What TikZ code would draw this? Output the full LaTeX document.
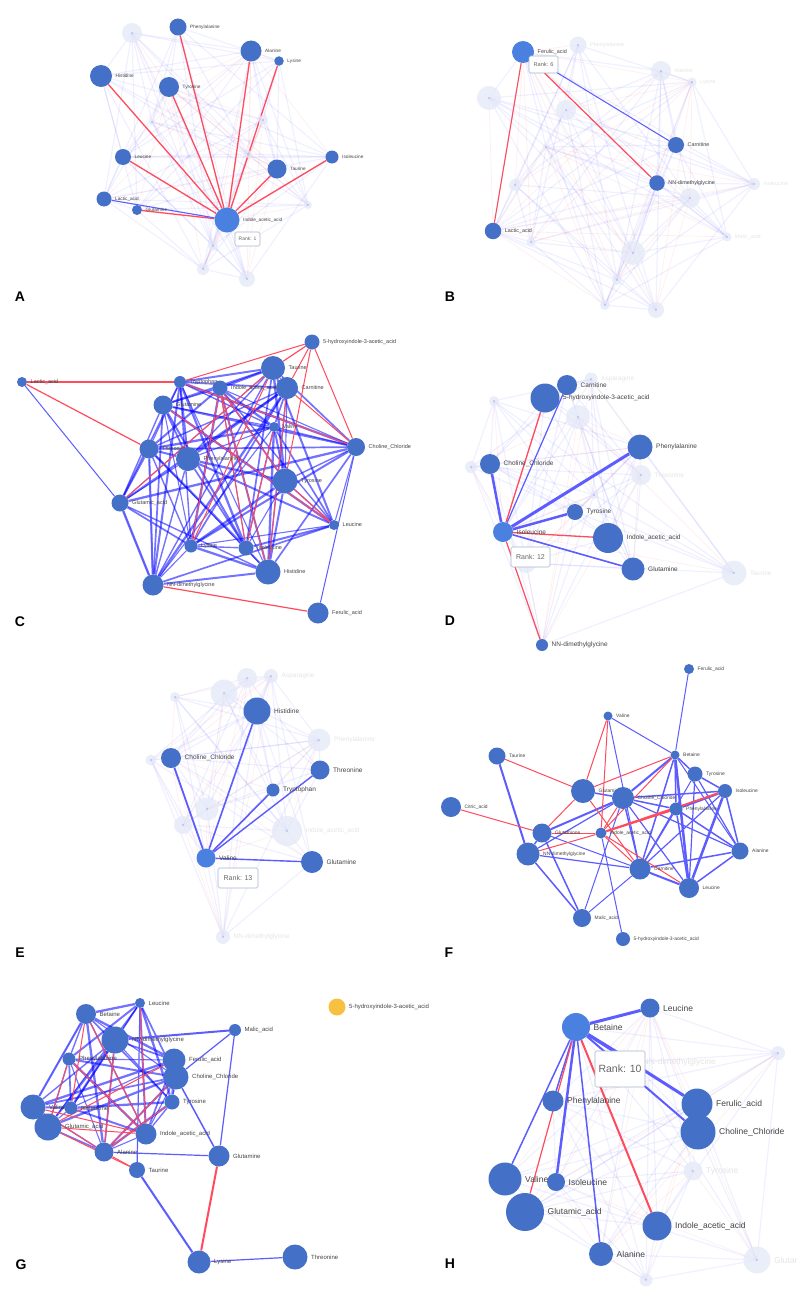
\documentclass[tikz,border=0pt]{standalone}
\usepackage{fontspec}
\setmainfont{Liberation Sans}
\pgfdeclarelayer{bgw}
\pgfdeclarelayer{edges}
\pgfsetlayers{bgw,edges,main}
\definecolor{nodeblue}{HTML}{4470C8}
\definecolor{hlblue}{HTML}{4A80E0}
\definecolor{eblue}{HTML}{5C5CFF}
\definecolor{ered}{HTML}{FF4B5C}
\definecolor{fadefill}{HTML}{E4E9F7}
\definecolor{dotcol}{HTML}{A0A0F0}
\definecolor{txtgray}{HTML}{444444}
\definecolor{boxgray}{HTML}{A8B4CC}
\definecolor{gold}{HTML}{F8C040}
\newcommand{\Nd}[6]{\node[#1,minimum size=#4pt,label={[#5]right:#6}] (#2) at (#3) {};}
\newcommand{\myfadenet}[2]{%
 \foreach \a [count=\i] in {#1}{%
  \foreach \b [count=\j] in {#1}{%
   \ifnum\i<\j\relax
    \pgfmathtruncatemacro{\k}{mod(\i*7+\j*3+#2,6)}%
    \ifnum\k=0\relax \draw[fred] (\a.center)--(\b.center);\fi
    \ifnum\k>2\relax \draw[fblue] (\a.center)--(\b.center);\fi
   \fi}}}
\newcommand{\mydense}[2]{%
 \foreach \a [count=\i] in {#1}{%
  \foreach \b [count=\j] in {#1}{%
   \ifnum\i<\j\relax
    \pgfmathtruncatemacro{\k}{mod(\i*5+\j*3+#2,7)}%
    \ifnum\k>1\relax
     \pgfmathsetmacro{\w}{0.5+0.3*\k}%
     \draw[dblue,line width=\w pt] (\a)--(\b);%
    \fi
   \fi}}}
\begin{document}
\begin{tikzpicture}[x=1pt,y=-1pt,
 nd/.style={circle,fill=nodeblue,inner sep=0pt,label distance=1.5pt},
 hl/.style={circle,fill=hlblue,inner sep=0pt,label distance=1.5pt},
 gd/.style={circle,fill=gold,inner sep=0pt,label distance=2pt},
 fd/.style={circle,fill=fadefill,fill opacity=0.75,inner sep=0pt,label distance=1.5pt,
   path picture={\fill[dotcol] (path picture bounding box.center) circle (0.8pt);}},
 labA/.style={font=\fontsize{4.7}{5}\selectfont,text=txtgray},
 labB/.style={font=\fontsize{5.4}{6}\selectfont,text=txtgray},
 labC/.style={font=\fontsize{5.5}{6}\selectfont,text=txtgray},
 labD/.style={font=\fontsize{6.5}{7}\selectfont,text=txtgray},
 labF/.style={font=\fontsize{4.9}{5}\selectfont,text=txtgray},
 labG/.style={font=\fontsize{6}{7}\selectfont,text=txtgray},
 labH/.style={font=\fontsize{8.5}{9}\selectfont,text=txtgray},
 fadelab/.style={text=black!10},
 rankbox/.style={draw=boxgray,fill=white,rounded corners=1.5pt,text=black!60,line width=0.6pt,inner sep=0pt},
 plab/.style={font=\fontsize{14}{16}\selectfont\bfseries,text=black},
 fblue/.style={draw=blue,draw opacity=0.06,line width=1.2pt},
 fred/.style={draw=red,draw opacity=0.06,line width=0.8pt},
 dblue/.style={draw=blue,draw opacity=0.55},
 eb/.style={draw=eblue},
 er/.style={draw=ered}]
\begin{pgfonlayer}{bgw}
\fill[white] (0,0) rectangle (796,1290);
\end{pgfonlayer}
\useasboundingbox (0,0) rectangle (796,1290);

% ================= Panel A =================
\Nd{fd}{af1}{132,33}{20}{labA,fadelab}{}
\Nd{fd}{af2}{152,122}{6}{labA,fadelab}{}
\Nd{fd}{af3}{263,120}{10}{labA,fadelab}{}
\Nd{fd}{af4}{248,154}{8}{labA,fadelab}{}
\Nd{fd}{af5}{308,205}{8}{labA,fadelab}{}
\Nd{fd}{af6}{213,246}{10}{labA,fadelab}{}
\Nd{fd}{af7}{203,269}{12}{labA,fadelab}{}
\Nd{fd}{af8}{247,279}{16}{labA,fadelab}{}
\Nd{nd}{aPhe}{178,27}{17}{labA}{Phenylalanine}
\Nd{nd}{aAla}{251,51}{21}{labA}{Alanine}
\Nd{nd}{aLys}{279,61}{9.5}{labA}{Lysine}
\Nd{nd}{aHis}{101,76}{22}{labA}{Histidine}
\Nd{nd}{aTyr}{169,87}{20}{labA}{Tyrosine}
\Nd{nd}{aLeu}{123,157}{16}{labA}{Leucine}
\Nd{nd}{aIle}{332,157}{13}{labA}{Isoleucine}
\Nd{nd}{aTau}{277,169}{19}{labA}{Taurine}
\Nd{nd}{aLac}{104,199}{15}{labA}{Lactic\_acid}
\Nd{nd}{aGln}{137,210}{10}{labA}{Glutamine}
\Nd{hl}{aIAA}{227,220}{25}{labA}{Indole\_acetic\_acid}
\node[rankbox,font=\fontsize{5}{6}\selectfont,minimum width=25pt,minimum height=14pt] (aRank) at (247.5,239) {Rank: 1};
\node[plab] (LA) at (20,297) {A};

% ================= Panel B =================
\Nd{fd}{bF1}{578,45}{17}{labB,fadelab}{Phenylalanine}
\Nd{fd}{bF2}{661,71}{20}{labB,fadelab}{Alanine}
\Nd{fd}{bF3}{692,82}{9}{labB,fadelab}{Lysine}
\Nd{fd}{bF4}{489,98}{24}{labB,fadelab}{}
\Nd{fd}{bF5}{566,110}{20}{labB,fadelab}{}
\Nd{fd}{bF6}{546,147}{6}{labB,fadelab}{}
\Nd{fd}{bF7}{515,185}{12}{labB,fadelab}{}
\Nd{fd}{bF8}{754,184}{12}{labB,fadelab}{Isoleucine}
\Nd{fd}{bF9}{690,198}{20}{labB,fadelab}{}
\Nd{fd}{bF10}{727,237}{9}{labB,fadelab}{Malic\_acid}
\Nd{fd}{bF11}{531,242}{9}{labB,fadelab}{}
\Nd{fd}{bF12}{633,253}{24}{labB,fadelab}{}
\Nd{fd}{bF13}{617,280}{10}{labB,fadelab}{}
\Nd{fd}{bF14}{605,305}{10}{labB,fadelab}{}
\Nd{fd}{bF15}{656,310}{16}{labB,fadelab}{}
\Nd{hl}{bFer}{523,52}{22}{labB}{Ferulic\_acid}
\Nd{nd}{bCar}{676,145}{16}{labB}{Carnitine}
\Nd{nd}{bNN}{657,183}{15.5}{labB}{NN-dimethylglycine}
\Nd{nd}{bLac}{493,231}{16.5}{labB}{Lactic\_acid}
\node[rankbox,font=\fontsize{5.6}{6}\selectfont,minimum width=29pt,minimum height=17pt] (bRank) at (543.5,64.5) {Rank: 6};
\node[plab] (LB) at (450,297) {B};

% ================= Panel C =================
\Nd{nd}{c5H}{312,342}{15}{labC}{5-hydroxyindole-3-acetic\_acid}
\Nd{nd}{cLac}{22,382}{10}{labC}{Lactic\_acid}
\Nd{nd}{cTrp}{180,382}{12}{labC}{Tryptophan}
\Nd{nd}{cTau}{273,368}{24}{labC}{Taurine}
\Nd{nd}{cIAA}{220,388}{15}{labC}{Indole\_acetic\_acid}
\Nd{nd}{cCar}{287,388}{22}{labC}{Carnitine}
\Nd{nd}{cGln}{163,405}{19}{labC}{Glutamine}
\Nd{nd}{cVal}{274,427}{10}{labC}{Valine}
\Nd{nd}{cCho}{356,447}{18}{labC}{Choline\_Chloride}
\Nd{nd}{cThr}{149,449}{19}{labC}{Threonine}
\Nd{nd}{cPhe}{188,459}{24}{labC}{Phenylalanine}
\Nd{nd}{cTyr}{285,481}{25}{labC}{Tyrosine}
\Nd{nd}{cGlu}{120,503}{17}{labC}{Glutamic\_acid}
\Nd{nd}{cLeu}{334,525}{10}{labC}{Leucine}
\Nd{nd}{cLys}{191,546}{13}{labC}{Lysine}
\Nd{nd}{cIle}{246,548}{15}{labC}{Isoleucine}
\Nd{nd}{cHis}{268,572}{25}{labC}{Histidine}
\Nd{nd}{cNN}{153,585}{21}{labC}{NN-dimethylglycine}
\Nd{nd}{cFer}{318,613}{21}{labC}{Ferulic\_acid}
\node[plab] (LC) at (20,622) {C};

% ================= Panel D =================
\Nd{fd}{dF1}{591,379}{13}{labD,fadelab}{Asparagine}
\Nd{fd}{dF2}{494,401}{10}{labD,fadelab}{}
\Nd{fd}{dF3}{578,417}{24}{labD,fadelab}{}
\Nd{fd}{dF4}{471,467}{12}{labD,fadelab}{}
\Nd{fd}{dF5}{641,475}{20}{labD,fadelab}{Threonine}
\Nd{fd}{dF6}{594,495}{8}{labD,fadelab}{}
\Nd{fd}{dF7}{526,563}{20}{labD,fadelab}{}
\Nd{fd}{dF8}{734,573}{25}{labD,fadelab}{Taurine}
\Nd{nd}{dCar}{567,385}{20}{labD}{Carnitine}
\Nd{nd}{d5H}{545,398}{29}{labD}{5-hydroxyindole-3-acetic\_acid}
\Nd{nd}{dPhe}{640,447}{25}{labD}{Phenylalanine}
\Nd{nd}{dCho}{490,464}{20}{labD}{Choline\_Chloride}
\Nd{nd}{dTyr}{575,512}{16}{labD}{Tyrosine}
\Nd{hl}{dIle}{503,532}{20}{labD}{Isoleucine}
\Nd{nd}{dIAA}{608,538}{30}{labD}{Indole\_acetic\_acid}
\Nd{nd}{dGln}{633,569}{23}{labD}{Glutamine}
\Nd{nd}{dNN}{542,645}{12}{labD}{NN-dimethylglycine}
\node[rankbox,font=\fontsize{7}{8}\selectfont,minimum width=39pt,minimum height=20pt] (dRank) at (530.5,557) {Rank: 12};
\node[plab] (LD) at (450,621) {D};

% ================= Panel E =================
\Nd{fd}{eF1}{247,678}{20}{labD,fadelab}{}
\Nd{fd}{eF2}{271,676}{14}{labD,fadelab}{Asparagine}
\Nd{fd}{eF3}{224,693}{27}{labD,fadelab}{}
\Nd{fd}{eF4}{175,697}{10}{labD,fadelab}{}
\Nd{fd}{eF5}{319,740}{23}{labD,fadelab}{Phenylalanine}
\Nd{fd}{eF6}{151,760}{11}{labD,fadelab}{}
\Nd{fd}{eF7}{207,809}{23}{labD,fadelab}{}
\Nd{fd}{eF8}{183,825}{18}{labD,fadelab}{}
\Nd{fd}{eF9}{287,831}{30}{labD,fadelab}{Indole\_acetic\_acid}
\Nd{fd}{eF10}{223,937}{14}{labD,fadelab}{NN-dimethylglycine}
\Nd{nd}{eHis}{257,711}{27}{labD}{Histidine}
\Nd{nd}{eCho}{171,758}{20}{labD}{Choline\_Chloride}
\Nd{nd}{eThr}{320,770}{19}{labD}{Threonine}
\Nd{nd}{eTrp}{273,790}{13}{labD}{Tryptophan}
\Nd{hl}{eVal}{206,858}{19}{labD}{Valine}
\Nd{nd}{eGln}{312,862}{22}{labD}{Glutamine}
\node[rankbox,font=\fontsize{7}{8}\selectfont,minimum width=40pt,minimum height=20pt] (eRank) at (238,878) {Rank: 13};
\node[plab] (LE) at (20,953) {E};

% ================= Panel F =================
\Nd{nd}{fFer}{689,669}{10}{labF}{Ferulic\_acid}
\Nd{nd}{fVal}{608,716}{9}{labF}{Valine}
\Nd{nd}{fTau}{497,756}{17}{labF}{Taurine}
\Nd{nd}{fBet}{675,755}{9}{labF}{Betaine}
\Nd{nd}{fTyr}{695,774}{15}{labF}{Tyrosine}
\Nd{nd}{fGlu}{583,791}{24}{labF}{Glutamic\_acid}
\Nd{nd}{fIle}{725,791}{14}{labF}{Isoleucine}
\Nd{nd}{fCho}{623,798}{22}{labF}{Choline\_Chloride}
\Nd{nd}{fCit}{451,807}{20}{labF}{Citric\_acid}
\Nd{nd}{fPhe}{676,809}{13}{labF}{Phenylalanine}
\Nd{nd}{fGsh}{542,833}{19}{labF}{Glutathione}
\Nd{nd}{fIAA}{601,833}{11}{labF}{Indole\_acetic\_acid}
\Nd{nd}{fNN}{528,854}{23}{labF}{NN-dimethylglycine}
\Nd{nd}{fAla}{740,851}{17}{labF}{Alanine}
\Nd{nd}{fCar}{640,869}{21}{labF}{Carnitine}
\Nd{nd}{fLeu}{689,888}{20}{labF}{Leucine}
\Nd{nd}{fMal}{582,918}{18}{labF}{Malic\_acid}
\Nd{nd}{f5H}{623,939}{14}{labF}{5-hydroxyindole-3-acetic\_acid}
\node[plab] (LF) at (449,953) {F};

% ================= Panel G =================
\Nd{gd}{g5H}{337,1007}{17}{labG}{5-hydroxyindole-3-acetic\_acid}
\Nd{nd}{gLeu}{140,1003}{10}{labG}{Leucine}
\Nd{nd}{gBet}{86,1014}{20}{labG}{Betaine}
\Nd{nd}{gMal}{235,1030}{12}{labG}{Malic\_acid}
\Nd{nd}{gNN}{115,1040}{27}{labG}{NN-dimethylglycine}
\Nd{nd}{gPhe}{69,1059}{13}{labG}{Phenylalanine}
\Nd{nd}{gFer}{174,1060}{23}{labG}{Ferulic\_acid}
\Nd{nd}{gCho}{176,1077}{25}{labG}{Choline\_Chloride}
\Nd{nd}{gVal}{33,1107}{25}{labG}{Valine}
\Nd{nd}{gIle}{71,1108}{13}{labG}{Isoleucine}
\Nd{nd}{gTyr}{172,1102}{15}{labG}{Tyrosine}
\Nd{nd}{gGlu}{48,1127}{27}{labG}{Glutamic\_acid}
\Nd{nd}{gIAA}{146,1134}{21}{labG}{Indole\_acetic\_acid}
\Nd{nd}{gAla}{104,1152}{19}{labG}{Alanine}
\Nd{nd}{gGln}{219,1156}{21}{labG}{Glutamine}
\Nd{nd}{gTau}{137,1170}{16}{labG}{Taurine}
\Nd{nd}{gLys}{199,1262}{23}{labG}{Lysine}
\Nd{nd}{gThr}{295,1257}{25}{labG}{Threonine}
\node[plab] (LG) at (21,1265) {G};

% ================= Panel H =================
\Nd{fd}{hF1}{778,1053}{14}{labH,fadelab}{}
\Nd{fd}{hNN}{633,1062}{12}{labH,fadelab}{NN-dimethylglycine}
\Nd{fd}{hTyr}{693,1171}{19}{labH,fadelab}{Tyrosine}
\Nd{fd}{hGln}{757,1260}{27}{labH,fadelab}{Glutamine}
\Nd{fd}{hF2}{646,1280}{13}{labH,fadelab}{}
\Nd{nd}{hLeu}{650,1008}{19}{labH}{Leucine}
\Nd{hl}{hBet}{576,1027}{28}{labH}{Betaine}
\Nd{nd}{hPhe}{553,1101}{21}{labH}{Phenylalanine}
\Nd{nd}{hFer}{697,1104}{31}{labH}{Ferulic\_acid}
\Nd{nd}{hCho}{698,1132}{35}{labH}{Choline\_Chloride}
\Nd{nd}{hVal}{505,1179}{33}{labH}{Valine}
\Nd{nd}{hIle}{556,1182}{18}{labH}{Isoleucine}
\Nd{nd}{hGlu}{525,1212}{38}{labH}{Glutamic\_acid}
\Nd{nd}{hIAA}{657,1226}{29}{labH}{Indole\_acetic\_acid}
\Nd{nd}{hAla}{601,1254}{24}{labH}{Alanine}
\node[rankbox,font=\fontsize{10.5}{12}\selectfont,minimum width=50pt,minimum height=36pt] (hRank) at (620,1069) {Rank: 10};
\node[plab] (LH) at (450,1264) {H};

% ================= Edges =================
\begin{pgfonlayer}{edges}
% faded networks
\myfadenet{aPhe,aAla,aLys,aHis,aTyr,aLeu,aIle,aTau,aLac,aGln,aIAA,af1,af2,af3,af4,af5,af6,af7,af8}{1}
\myfadenet{bFer,bCar,bNN,bLac,bF1,bF2,bF3,bF4,bF5,bF6,bF7,bF8,bF9,bF10,bF11,bF12,bF13,bF14,bF15}{2}
\myfadenet{dCar,d5H,dPhe,dCho,dTyr,dIle,dIAA,dGln,dNN,dF1,dF2,dF3,dF4,dF5,dF6,dF7,dF8}{3}
\myfadenet{eHis,eCho,eThr,eTrp,eVal,eGln,eF1,eF2,eF3,eF4,eF5,eF6,eF7,eF8,eF9,eF10}{4}
\myfadenet{hLeu,hBet,hPhe,hFer,hCho,hVal,hIle,hGlu,hIAA,hAla,hF1,hNN,hTyr,hGln,hF2}{5}
% dense networks
\mydense{cTrp,cTau,cIAA,cCar,cGln,cVal,cCho,cThr,cPhe,cTyr,cGlu,cLeu,cLys,cIle,cHis,cNN}{1}
\mydense{gLeu,gBet,gNN,gPhe,gFer,gCho,gVal,gIle,gTyr,gGlu,gIAA,gAla}{2}
% panel A
\foreach \u in {aPhe,aAla,aLys,aHis,aTyr,aLeu,aIle,aTau,aGln}
  \draw[er,line width=1.3pt] (aIAA)--(\u);
\draw[eb,line width=1.1pt] (aIAA)--(aLac);
% panel B
\draw[er,line width=1.1pt] (bFer)--(bLac);
\draw[er,line width=1.2pt] (bFer)--(bNN);
\draw[eb,line width=1pt] (bFer)--(bCar);
% panel C
\foreach \u/\v/\w in {cLac/cGlu/1,cFer/cCho/1,cGlu/cNN/1.3,cThr/cNN/1.3}
  \draw[eb,line width=\w pt] (\u)--(\v);
\foreach \u/\v/\w in {cLac/cTrp/1.2,cLac/cThr/1.2,cNN/cFer/1.2,c5H/cTau/1.2,c5H/cTrp/1,c5H/cCho/1,c5H/cTyr/1,c5H/cCar/1,cIAA/cLys/1,cIAA/cIle/1,cIAA/cHis/1,cTrp/cCho/1,cTau/cLys/1,cCar/cHis/1,cTyr/cLeu/1,cCar/cCho/1,cVal/cIle/1,cGln/cLeu/1,cIAA/cTyr/1,cTau/cGlu/1}
  \draw[er,line width=\w pt] (\u)--(\v);
% panel D
\foreach \u/\w in {dCho/2.5,dCar/1.2,dPhe/3,dTyr/2.5,dGln/1.6}
  \draw[eb,line width=\w pt] (dIle)--(\u);
\foreach \u/\w in {d5H/1.3,dIAA/1.3,dNN/1.2}
  \draw[er,line width=\w pt] (dIle)--(\u);
% panel E
\foreach \u/\w in {eCho/1.8,eHis/1.6,eTrp/1.6,eThr/1.4,eGln/1.4}
  \draw[eb,line width=\w pt] (eVal)--(\u);
% panel F
\foreach \u/\v/\w in {fFer/fBet/1,fVal/fBet/1,fVal/fCar/1,fTau/fNN/2,fBet/fCho/2,fBet/fPhe/1.5,fBet/fCar/1.5,fBet/fLeu/2.5,fBet/fTyr/1.5,fBet/fAla/1,fCho/fGsh/2,fCho/fNN/1.2,fCho/fCar/1.5,fCho/fIle/1.5,fCho/fPhe/1.5,fCho/fAla/1.2,fCho/fLeu/1.2,fCho/fMal/1,fIle/fPhe/2.5,fIle/fTyr/1.5,fIle/fAla/1.5,fIle/fLeu/2.5,fIle/fCar/1.2,fPhe/fCar/1.5,fPhe/fLeu/1.5,fPhe/fAla/1.5,fTyr/fAla/1.2,fTyr/fLeu/1.2,fTyr/fCar/1,fAla/fCar/1.5,fAla/fLeu/1.5,fCar/fLeu/2,fCar/fNN/1.2,fCar/fMal/1,fGsh/fNN/1.5,fGsh/fMal/1.5,fGsh/fCar/1,fNN/fMal/1.5,fIAA/f5H/1,fGlu/fCho/1.5}
  \draw[eb,line width=\w pt] (\u)--(\v);
\foreach \u/\v/\w in {fVal/fGlu/1,fVal/fIAA/1,fTau/fGlu/1,fCit/fGsh/1,fBet/fGlu/1,fBet/fIAA/1,fGlu/fGsh/1,fGlu/fCar/1,fCho/fIAA/1,fIle/fIAA/1.8,fPhe/fIAA/1.8,fCar/fIAA/1,fLeu/fIAA/1,fGsh/fIAA/1,fNN/fIAA/1}
  \draw[er,line width=\w pt] (\u)--(\v);
% panel G
\foreach \u/\v/\w in {gMal/gNN/2,gMal/gGln/1.2,gMal/gCho/1.2,gGln/gAla/1.2,gGln/gCho/1.5,gTau/gLys/2,gLys/gThr/1.2,gLeu/gTau/1.2,gVal/gBet/1.2}
  \draw[eb,line width=\w pt] (\u)--(\v);
\foreach \u/\v/\w in {gBet/gIAA/1,gPhe/gIAA/1,gPhe/gGlu/1,gLeu/gIAA/1,gNN/gAla/1,gCho/gAla/1,gVal/gIAA/1,gGlu/gIAA/1,gVal/gAla/1,gAla/gTau/1,gGlu/gTau/1,gTyr/gAla/1,gBet/gIle/1,gFer/gGlu/1,gGln/gLys/2}
  \draw[er,line width=\w pt] (\u)--(\v);
% panel H
\foreach \u/\w in {hLeu/3,hNN/3,hFer/3,hCho/2,hPhe/1.5,hVal/1.5,hIle/2.5,hAla/1.5}
  \draw[eb,line width=\w pt] (hBet)--(\u);
\draw[er,line width=1.2pt] (hBet)--(hGlu);
\draw[er,line width=2pt] (hBet)--(hIAA);
\end{pgfonlayer}
\end{tikzpicture}
\end{document}
